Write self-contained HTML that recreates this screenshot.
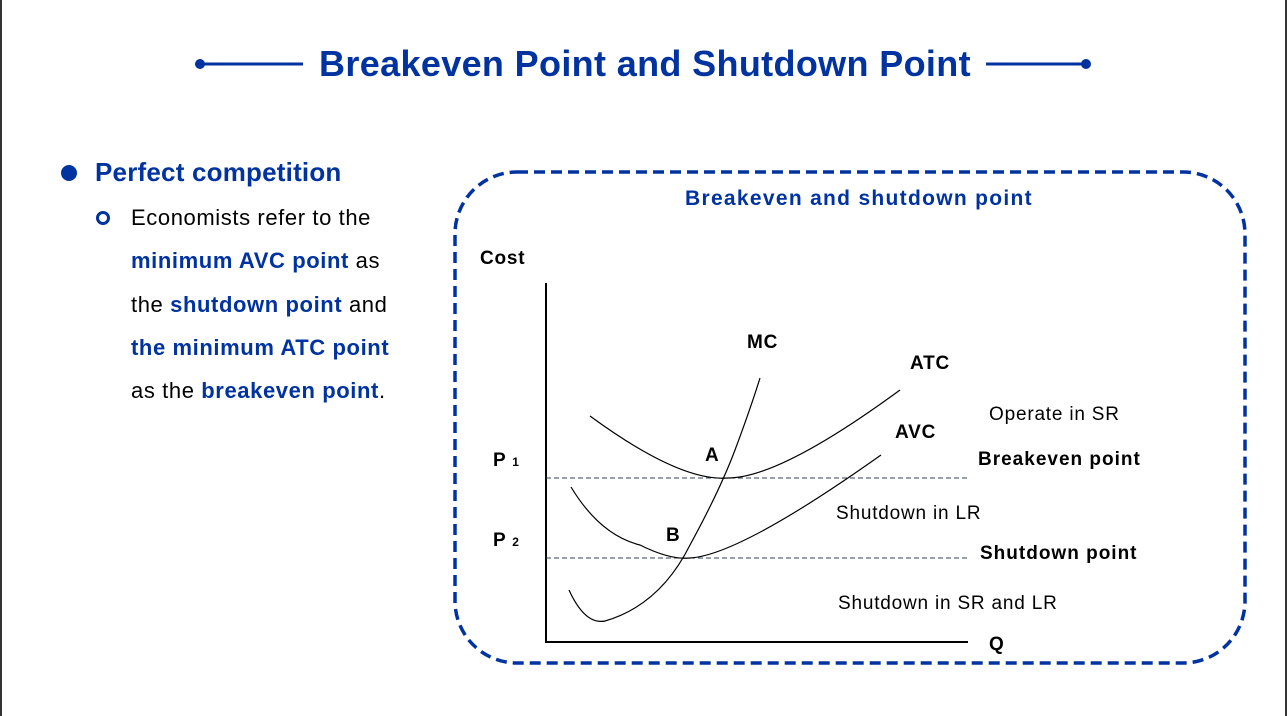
<!DOCTYPE html>
<html><head><meta charset="utf-8"><style>
body{margin:0;width:1287px;height:716px;background:#fff;position:relative;overflow:hidden;font-family:"Liberation Sans",sans-serif}
.t{position:absolute;white-space:nowrap}
.b{color:#0033a0;font-weight:bold}
.d{font-size:19px;letter-spacing:0.8px}
</style></head><body>
<div style="position:absolute;left:0;top:0;width:2px;height:716px;background:#333"></div>
<div style="position:absolute;right:0;top:0;width:2px;height:716px;background:#333"></div>
<svg width="1287" height="716" style="position:absolute;left:0;top:0">
<line x1="200" y1="64" x2="303" y2="64" stroke="#0033a0" stroke-width="3"/>
<circle cx="200" cy="64" r="5" fill="#0033a0"/>
<line x1="986" y1="64" x2="1086" y2="64" stroke="#0033a0" stroke-width="3"/>
<circle cx="1086" cy="64" r="5" fill="#0033a0"/>
<circle cx="69" cy="173" r="8" fill="#0033a0"/>
<circle cx="103" cy="218" r="5.5" fill="none" stroke="#0033a0" stroke-width="3"/>
<rect x="455" y="172" width="790" height="491" rx="62" fill="none" stroke="#0033a0" stroke-width="3.5" stroke-dasharray="11,6"/>
<line x1="546" y1="283" x2="546" y2="643" stroke="#000" stroke-width="2"/>
<line x1="545" y1="642" x2="968" y2="642" stroke="#000" stroke-width="2"/>
<line x1="546" y1="478" x2="968" y2="478" stroke="#345" stroke-width="1" stroke-dasharray="5,3"/>
<line x1="546" y1="558" x2="968" y2="558" stroke="#345" stroke-width="1" stroke-dasharray="5,3"/>
<path d="M590,416 Q680,482 728,478 Q780,478 900,390" fill="none" stroke="#000" stroke-width="1.2"/>
<path d="M571,487 Q600,535 640,545 Q670,560 690,558 Q740,555 881,455" fill="none" stroke="#000" stroke-width="1.2"/>
<path d="M569,590 Q585,625 605,621 Q660,605 690,545 Q720,490 735,450 Q750,410 760,378" fill="none" stroke="#000" stroke-width="1.2"/>
</svg>
<div class="t b" style="left:319px;top:43px;font-size:36px;letter-spacing:0.35px">Breakeven Point and Shutdown Point</div>
<div class="t b" style="left:95px;top:157px;font-size:26px;letter-spacing:0.2px">Perfect competition</div>
<div class="t" style="left:131px;top:196px;font-size:22px;line-height:43.3px;letter-spacing:0.6px">Economists refer to the<br><span class="b">minimum AVC point</span> as<br>the <span class="b">shutdown point</span> and<br><span class="b">the minimum ATC point</span><br>as the <span class="b">breakeven point</span>.</div>
<div class="t b" style="left:685px;top:187px;font-size:21px;letter-spacing:1.3px">Breakeven and shutdown point</div>
<div class="t d" style="left:480px;top:248px;font-weight:bold">Cost</div>
<div class="t d" style="left:747px;top:332px;font-weight:bold">MC</div>
<div class="t d" style="left:910px;top:353px;font-weight:bold">ATC</div>
<div class="t d" style="left:895px;top:422px;font-weight:bold">AVC</div>
<div class="t d" style="left:705px;top:445px;font-weight:bold">A</div>
<div class="t d" style="left:666px;top:525px;font-weight:bold">B</div>
<div class="t d" style="left:493px;top:450px;font-weight:bold">P <span style="font-size:12px">1</span></div>
<div class="t d" style="left:493px;top:530px;font-weight:bold">P <span style="font-size:12px">2</span></div>
<div class="t d" style="left:989px;top:404px">Operate in SR</div>
<div class="t d" style="left:978px;top:449px;font-weight:bold;letter-spacing:1px">Breakeven point</div>
<div class="t d" style="left:836px;top:503px">Shutdown in LR</div>
<div class="t d" style="left:980px;top:543px;font-weight:bold;letter-spacing:1px">Shutdown point</div>
<div class="t d" style="left:838px;top:593px">Shutdown in SR and LR</div>
<div class="t d" style="left:989px;top:634px;font-weight:bold">Q</div>
</body></html>
